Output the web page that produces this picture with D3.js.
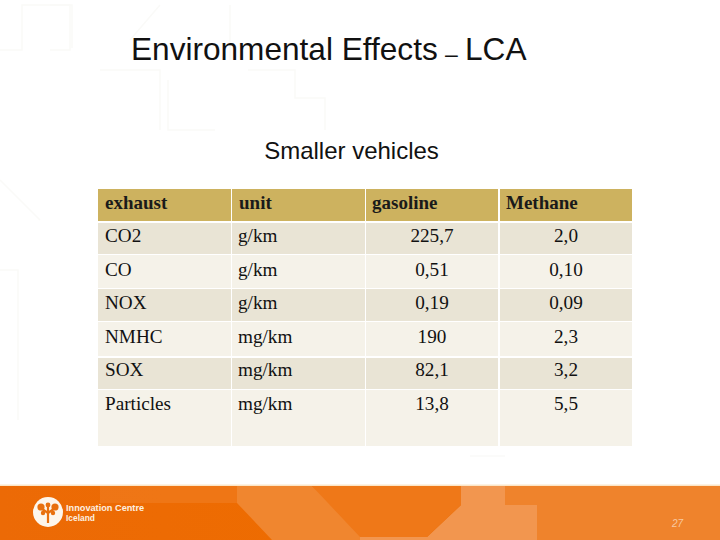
<!DOCTYPE html>
<html>
<head>
<meta charset="utf-8">
<style>
body { margin: 0; background: #fff; }
svg { display: block; }
</style>
<script src="https://cdn.jsdelivr.net/npm/d3@7/dist/d3.min.js"></script>
</head>
<body>
<svg id="slide" width="720" height="540"></svg>
<script>
// table content
var columns = ["exhaust", "unit", "gasoline", "Methane"];
var exhaust = ["CO2", "CO", "NOX", "NMHC", "SOX", "Particles"];
var units = ["g/km", "g/km", "g/km", "mg/km", "mg/km", "mg/km"];
var gasoline = ["225,7", "0,51", "0,19", "190", "82,1", "13,8"];
var methane = ["2,0", "0,10", "0,09", "2,3", "3,2", "5,5"];

var titleText = "Environmental Effects";
var titleTail = "LCA";
var subtitle = "Smaller vehicles";
var logoLines = ["Innovation Centre", "Iceland"];
var pageNumber = "27";

var svg = d3.select("#slide");
var serif = "'Liberation Serif', serif";
var sans = "'Liberation Sans', Arial, sans-serif";

// faint watermark lines in the white area
var faint = [
    "M0 50H22V5H70V50H50", "M50 5H72V48", "M100 70H160V130M168 80V130H215M248 70H295V98H325V130",
    "M0 180L40 220M0 270H18V420M160 5L130 40M230 5V60", "M470 456H505"
];
svg.selectAll(".faint").data(faint).enter().append("path")
    .attr("class", "faint")
    .attr("d", d => d)
    .attr("fill", "none")
    .attr("stroke", "#fafaf8")
    .attr("stroke-width", 1.5);

// titles
svg.append("text").attr("x", 131).attr("y", 60)
    .attr("font-family", sans).attr("font-size", 31.6).attr("fill", "#111")
    .text(titleText);
svg.append("text").attr("x", 445).attr("y", 62)
    .attr("font-family", sans).attr("font-size", 23).attr("fill", "#111")
    .text("–");
svg.append("text").attr("x", 465).attr("y", 60)
    .attr("font-family", sans).attr("font-size", 31.6).attr("fill", "#111")
    .text(titleTail);
svg.append("text").attr("x", 351.5).attr("y", 159)
    .attr("text-anchor", "middle")
    .attr("font-family", sans).attr("font-size", 24).attr("fill", "#111")
    .text(subtitle);

// table grid, rows are not equal height so the scales are ordinal
var rowKeys = ["head"].concat(exhaust);
var rowTop = d3.scaleOrdinal().domain(rowKeys).range([189, 223, 255, 289, 322, 358, 390]);
var rowBottom = d3.scaleOrdinal().domain(rowKeys).range([221, 254, 288, 321, 356, 389, 446]);
var colLeft = d3.scaleOrdinal().domain(columns).range([98, 232, 366, 500]);
var colRight = d3.scaleOrdinal().domain(columns).range([231, 365, 498, 632]);
var rowFill = d3.scaleOrdinal().domain(rowKeys)
    .range(["#cdb25f", "#e9e4d5", "#f5f2e9", "#e9e4d5", "#f5f2e9", "#e9e4d5", "#f5f2e9"]);

var table = svg.append("g");
rowKeys.forEach(function (r) {
    columns.forEach(function (c) {
        table.append("rect")
            .attr("x", colLeft(c))
            .attr("y", rowTop(r))
            .attr("width", colRight(c) - colLeft(c))
            .attr("height", rowBottom(r) - rowTop(r))
            .attr("fill", rowFill(r));
    });
});

// header
table.selectAll(".head").data(columns).enter().append("text")
    .attr("class", "head")
    .attr("x", d => colLeft(d) + (d == "exhaust" || d == "unit" ? 7 : 6))
    .attr("y", 209)
    .attr("font-family", serif).attr("font-size", 19).attr("font-weight", "bold")
    .attr("fill", "#1a1a1a")
    .text(d => d);

// body cells
var baseline = d3.scaleOrdinal().domain(exhaust).range([242, 276, 309, 343, 376, 410]);
exhaust.forEach(function (name, i) {
    var y = baseline(name);
    var cell = (txt, x, anchor) => table.append("text")
        .attr("x", x).attr("y", y)
        .attr("text-anchor", anchor)
        .attr("font-family", serif).attr("font-size", 19.2).attr("fill", "#111")
        .text(txt);
    cell(name, colLeft("exhaust") + 7, "start");
    cell(units[i], colLeft("unit") + 6, "start");
    cell(gasoline[i], 432, "middle");
    cell(methane[i], 566, "middle");
});

// footer band
var grad = svg.append("defs").append("linearGradient").attr("id", "band");
grad.append("stop").attr("offset", "0").attr("stop-color", "#ec6a06");
grad.append("stop").attr("offset", "0.45").attr("stop-color", "#ee6c00");
grad.append("stop").attr("offset", "1").attr("stop-color", "#ee7000");
svg.append("rect").attr("x", 0).attr("y", 486).attr("width", 720).attr("height", 54).attr("fill", "url(#band)");
svg.append("rect").attr("x", 0).attr("y", 484.5).attr("width", 720).attr("height", 1.5).attr("fill", "#fbe6c8");

// pale facets of the band
svg.append("path").attr("d", "M100 486H312V503H100Z").attr("fill", "#f07a1e").attr("opacity", 0.7);
svg.append("path").attr("d", "M237 503L272 540H372L312 486H237Z").attr("fill", "#f0862f");
svg.append("path").attr("d", "M461 486H505V505H537V540H360V537H427L461 505Z").attr("fill", "#f2964f");
svg.append("path").attr("d", "M312 486H461V505L427 537H360Z").attr("fill", "#ef7818");
svg.append("path").attr("d", "M505 486H720V540H537V505H505Z").attr("fill", "#ef832c");

// logo
var logo = svg.append("g");
logo.append("circle").attr("cx", 48).attr("cy", 512).attr("r", 15).attr("fill", "#fdf6ec");
logo.append("path").attr("d", "M48 523V513L41 508M48 513L55 508M48 513V506").attr("fill", "none").attr("stroke", "#e8700f").attr("stroke-width", 2.2);
var blobs = [[41, 507, 3.6], [55, 507, 3.6], [43, 513, 2.2], [53, 513, 2.2], [48, 505, 2.4]];
logo.selectAll(".blob").data(blobs).enter().append("circle")
    .attr("class", "blob")
    .attr("cx", d => d[0]).attr("cy", d => d[1]).attr("r", d => d[2])
    .attr("fill", "#e8700f");
logo.selectAll(".name").data(logoLines).enter().append("text")
    .attr("class", "name")
    .attr("x", 66)
    .attr("y", (d, i) => i == 0 ? 511 : 521)
    .attr("font-family", sans).attr("font-size", (d, i) => i == 0 ? 9.2 : 8.4)
    .attr("font-weight", "bold").attr("fill", "#fdf0e0")
    .text(d => d);

svg.append("text").attr("x", 672).attr("y", 527)
    .attr("font-family", sans).attr("font-size", 10).attr("font-style", "italic")
    .attr("fill", "#f8c9a0")
    .text(pageNumber);
</script>
</body>
</html>
